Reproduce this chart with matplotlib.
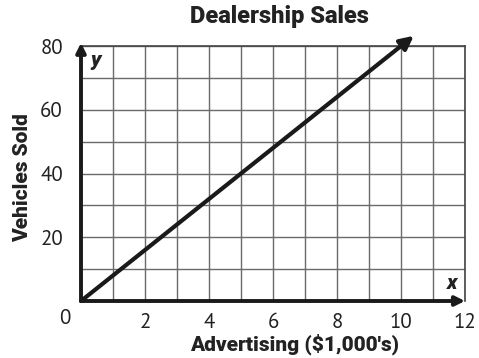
import matplotlib.pyplot as plt
from matplotlib.ticker import MultipleLocator

# advertising spend in $1,000s vs vehicles sold
advertising = [0, 10.4]
vehicles = [0, 83.2]

x_ticks = [2, 4, 6, 8, 10, 12]
y_ticks = [20, 40, 60, 80]

plt.rcParams['font.family'] = ['PT Sans', 'Open Sans', 'DejaVu Sans']
bold_font = dict(family=['Roboto', 'DejaVu Sans'], fontstretch='condensed',
                 fontweight='black', color='#222222')

fig = plt.figure(figsize=(4.79, 3.58), dpi=100)
ax = fig.add_axes([81 / 479, 1 - 301 / 358, 384 / 479, 255 / 358])
ax.set_xlim(0, 12)
ax.set_ylim(0, 80)

ax.xaxis.set_minor_locator(MultipleLocator(1))
ax.yaxis.set_minor_locator(MultipleLocator(10))
ax.grid(which='both', color='#6a6a6a', linewidth=1.0)
ax.set_axisbelow(True)

for side in ['top', 'right']:
    ax.spines[side].set_color('#444444')
    ax.spines[side].set_linewidth(1.2)
for side in ['left', 'bottom']:
    ax.spines[side].set_visible(False)

ax.set_xticks(x_ticks)
ax.set_yticks(y_ticks)
ax.tick_params(which='both', length=0, labelsize=15, colors='#222222')
ax.tick_params(axis='x', pad=9)
ax.tick_params(axis='y', pad=13)

# thick axes with arrowheads
ax.annotate('', xy=(12, 0), xytext=(0, 0),
            arrowprops=dict(arrowstyle='-|>', color='#1a1a1a', lw=2.8,
                            mutation_scale=14, shrinkA=0, shrinkB=0),
            annotation_clip=False)
ax.annotate('', xy=(0, 81), xytext=(0, 0),
            arrowprops=dict(arrowstyle='-|>', color='#1a1a1a', lw=2.8,
                            mutation_scale=14, shrinkA=0, shrinkB=0),
            annotation_clip=False)

# sales line
ax.annotate('', xy=(advertising[1], vehicles[1]), xytext=(advertising[0], vehicles[0]),
            arrowprops=dict(arrowstyle='-|>', color='#1a1a1a', lw=3,
                            mutation_scale=20, shrinkA=0, shrinkB=0),
            annotation_clip=False)

ax.text(0.3, 75.5, 'y', fontsize=15, fontstyle='italic', ha='left',
        va='center', **bold_font)
ax.text(11.6, 2.5, 'x', fontsize=15, fontstyle='italic', ha='center',
        va='bottom', **bold_font)

fig.text(65 / 479, 1 - 318 / 358, '0', fontsize=15, color='#222222',
         ha='center', va='center')

fig.text(279 / 479, 1 - 17 / 358, 'Dealership Sales', fontsize=17,
         ha='center', va='center', **bold_font)
fig.text(295 / 479, 1 - 344 / 358, "Advertising ($1,000's)", fontsize=15,
         ha='center', va='center', **bold_font)
fig.text(23 / 479, 1 - 178 / 358, 'Vehicles Sold', fontsize=15,
         ha='center', va='center', rotation=90, **bold_font)

fig.savefig('out.png', dpi=100)
